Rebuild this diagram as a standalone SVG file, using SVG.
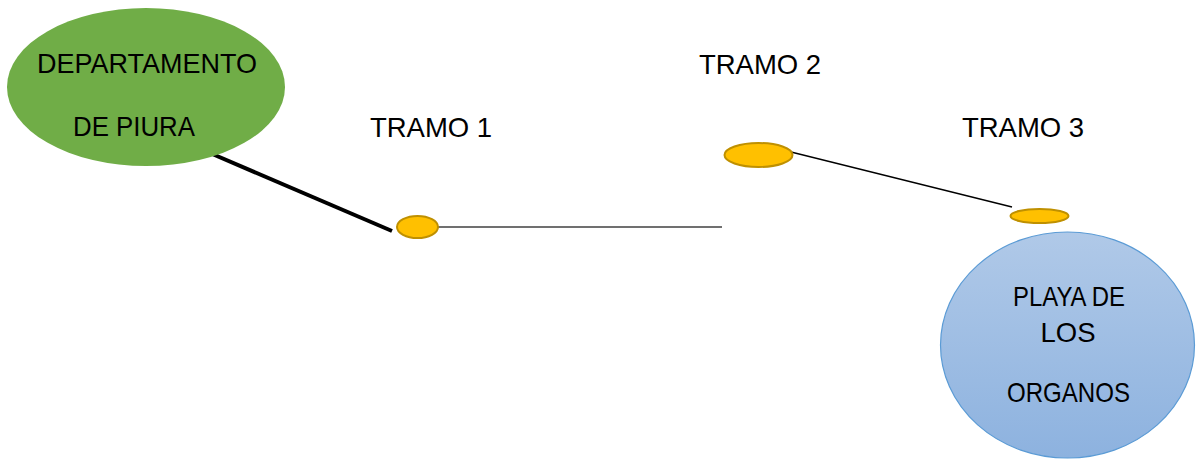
<svg xmlns="http://www.w3.org/2000/svg" width="1197" height="459" viewBox="0 0 1197 459">
<style>
text{font-family:"Liberation Sans",Arial,sans-serif;font-size:27.5px;fill:#000;text-anchor:middle}
.dot{fill:#FFC000;stroke:#BF9000;stroke-width:2}
</style>
<defs>
<linearGradient id="blue" x1="0" y1="0" x2="0" y2="1">
<stop offset="0" stop-color="#B0C9E8"/>
<stop offset="1" stop-color="#8DB2DF"/>
</linearGradient>
</defs>
<rect width="1197" height="459" fill="#fff"/>
<g id="connectors">
<line x1="210" y1="153" x2="392" y2="231" stroke="#000" stroke-width="4"/>
<line x1="438" y1="227" x2="722" y2="227" stroke="#404040" stroke-width="1.5"/>
<line x1="787" y1="151" x2="1012" y2="207" stroke="#000" stroke-width="1.3"/>
</g>
<g id="departamento">
<ellipse cx="146" cy="87" rx="139" ry="79" fill="#70AD47"/>
<text x="147" y="73" textLength="220" lengthAdjust="spacingAndGlyphs">DEPARTAMENTO</text>
<text x="134" y="136" textLength="122" lengthAdjust="spacingAndGlyphs">DE PIURA</text>
</g>
<g id="tramo1"><text x="431" y="137">TRAMO 1</text></g>
<g id="tramo2"><text x="760" y="74">TRAMO 2</text></g>
<g id="tramo3"><text x="1023" y="137">TRAMO 3</text></g>
<g id="p1"><ellipse class="dot" cx="417.5" cy="227" rx="20.5" ry="11"/></g>
<g id="p2"><ellipse class="dot" cx="758.5" cy="155" rx="34" ry="12"/></g>
<g id="p3"><ellipse class="dot" cx="1039.5" cy="216" rx="29" ry="7"/></g>
<g id="playa">
<ellipse cx="1067.5" cy="345" rx="127" ry="113" fill="url(#blue)" stroke="#5B9BD5" stroke-width="1.2"/>
<text x="1069" y="306" textLength="112" lengthAdjust="spacingAndGlyphs">PLAYA DE</text>
<text x="1068" y="342">LOS</text>
<text x="1068.5" y="402" textLength="123" lengthAdjust="spacingAndGlyphs">ORGANOS</text>
</g>
</svg>
